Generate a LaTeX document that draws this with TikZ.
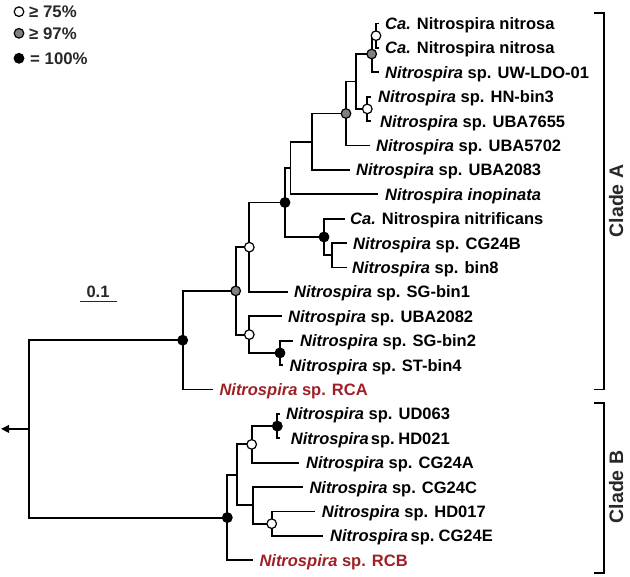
\documentclass[tikz,border=0pt]{standalone}
\usepackage{fontspec}
\setmainfont{Liberation Sans}
\usetikzlibrary{arrows.meta}
\definecolor{redlab}{RGB}{158,32,38}
\definecolor{dgray}{RGB}{40,40,40}
\definecolor{cgray}{RGB}{128,128,128}
\newcommand{\Ni}{\textit{Nitrospira}}
\begin{document}
\begin{tikzpicture}[x=1pt,y=-1pt,
  edge/.style={line width=1.9pt},
  lab/.style={anchor=base west, inner sep=0pt, font=\bfseries\fontsize{16.5}{18}\selectfont, text=black},
  redl/.style={lab, text=redlab},
  nd/.style={circle, draw=black, line width=1.2pt, minimum size=9.6pt, inner sep=0pt},
  wc/.style={nd, fill=white},
  gc/.style={nd, fill=cgray},
  bc/.style={nd, fill=black},
  leg/.style={anchor=base west, inner sep=0pt, font=\bfseries\fontsize{16.8}{18}\selectfont, text=dgray},
  clade/.style={rotate=90, anchor=base, inner sep=0pt, font=\bfseries\fontsize{19.5}{22}\selectfont, text=dgray}]
\useasboundingbox (0,0) rectangle (630,577);

% internal nodes
\coordinate (n1) at (376,35.7);
\coordinate (n2) at (371.7,54);
\coordinate (n3) at (367.3,108.9);
\coordinate (n4) at (356,81.5);
\coordinate (n5) at (346,113.5);
\coordinate (n6) at (311.7,141.7);
\coordinate (n7) at (290.5,168);
\coordinate (n8) at (285,202.5);
\coordinate (n9) at (324,237);
\coordinate (n10) at (331.7,255.3);
\coordinate (n11) at (249.3,247.2);
\coordinate (n12) at (235.7,290.9);
\coordinate (n13) at (249.3,334.6);
\coordinate (n14) at (280,352.9);
\coordinate (n15) at (182.7,340.2);
\coordinate (nB4) at (277.3,426.1);
\coordinate (nB2) at (251.7,444.4);
\coordinate (nB5) at (271.7,523.7);
\coordinate (nB3) at (253.3,505.4);
\coordinate (nB1) at (236.7,474.9);
\coordinate (nB0) at (227.3,517.6);
\coordinate (root) at (29.3,428.9);
\coordinate (out) at (1,428.9);

% tips
\coordinate (t0) at (378.5,23.5);
\coordinate (t1) at (378.5,47.9);
\coordinate (t2) at (378.5,72.3);
\coordinate (t3) at (370.5,96.7);
\coordinate (t4) at (370.5,121.1);
\coordinate (t5) at (370,145.5);
\coordinate (t6) at (350,169.9);
\coordinate (t7) at (378,194.3);
\coordinate (t8) at (345,218.7);
\coordinate (t9) at (346.7,243.1);
\coordinate (t10) at (346.7,267.5);
\coordinate (t11) at (288.3,291.9);
\coordinate (t12) at (281.7,316.3);
\coordinate (t13) at (292.7,340.7);
\coordinate (t14) at (283.3,365.1);
\coordinate (t15) at (213.3,389.5);
\coordinate (t16) at (280,413.9);
\coordinate (t17) at (280,438.3);
\coordinate (t18) at (299.3,462.7);
\coordinate (t19) at (303.3,487.1);
\coordinate (t20) at (315,511.5);
\coordinate (t21) at (322.7,535.9);
\coordinate (t22) at (253.3,560.3);

% edges
\draw[edge] (n1) |- (t0);
\draw[edge] (n1) |- (t1);
\draw[edge] (n2) |- (n1);
\draw[edge] (n2) |- (t2);
\draw[edge] (n3) |- (t3);
\draw[edge] (n3) |- (t4);
\draw[edge] (n4) |- (n2);
\draw[edge] (n4) |- (n3);
\draw[edge] (n5) |- (n4);
\draw[edge] (n5) |- (t5);
\draw[edge] (n6) |- (n5);
\draw[edge] (n6) |- (t6);
\draw[edge] (n7) |- (n6);
\draw[edge] (n7) |- (t7);
\draw[edge] (n10) |- (t9);
\draw[edge] (n10) |- (t10);
\draw[edge] (n9) |- (t8);
\draw[edge] (n9) |- (n10);
\draw[edge] (n8) |- (n7);
\draw[edge] (n8) |- (n9);
\draw[edge] (n11) |- (n8);
\draw[edge] (n11) |- (t11);
\draw[edge] (n14) |- (t13);
\draw[edge] (n14) |- (t14);
\draw[edge] (n13) |- (t12);
\draw[edge] (n13) |- (n14);
\draw[edge] (n12) |- (n11);
\draw[edge] (n12) |- (n13);
\draw[edge] (n15) |- (n12);
\draw[edge] (n15) |- (t15);
\draw[edge] (nB4) |- (t16);
\draw[edge] (nB4) |- (t17);
\draw[edge] (nB2) |- (nB4);
\draw[edge] (nB2) |- (t18);
\draw[edge] (nB5) |- (t20);
\draw[edge] (nB5) |- (t21);
\draw[edge] (nB3) |- (t19);
\draw[edge] (nB3) |- (nB5);
\draw[edge] (nB1) |- (nB2);
\draw[edge] (nB1) |- (nB3);
\draw[edge] (nB0) |- (nB1);
\draw[edge] (nB0) |- (t22);
\draw[edge] (root) |- (n15);
\draw[edge] (root) |- (nB0);
\draw[edge, -{Triangle[length=8pt,width=7.5pt]}] (root) -- (out);

% support circles
\node[wc] (c1) at (n1) {};
\node[gc] (c2) at (n2) {};
\node[wc] (c3) at (n3) {};
\node[gc] (c5) at (n5) {};
\node[bc] (c8) at (n8) {};
\node[bc] (c9) at (n9) {};
\node[wc] (c11) at (n11) {};
\node[gc] (c12) at (n12) {};
\node[wc] (c13) at (n13) {};
\node[bc] (c14) at (n14) {};
\node[bc] (c15) at (n15) {};
\node[bc] (cB4) at (nB4) {};
\node[wc] (cB2) at (nB2) {};
\node[wc] (cB5) at (nB5) {};
\node[bc] (cB0) at (nB0) {};

% labels
\node[lab] (L0) at (385,29.5) {\textit{Ca.} Nitrospira nitrosa};
\node[lab] (L1) at (385,53.9) {\textit{Ca.} Nitrospira nitrosa};
\node[lab] (L2) at (385,78.3) {\Ni{} sp. UW-LDO-01};
\node[lab] (L3) at (378,102.7) {\Ni{} sp. HN-bin3};
\node[lab] (L4) at (380,127.1) {\Ni{} sp. UBA7655};
\node[lab] (L5) at (376,151.5) {\Ni{} sp. UBA5702};
\node[lab] (L6) at (356,175.9) {\Ni{} sp. UBA2083};
\node[lab] (L7) at (385,200.3) {\textit{Nitrospira inopinata}};
\node[lab] (L8) at (350,224.7) {\textit{Ca.} Nitrospira nitrificans};
\node[lab] (L9) at (353,249.1) {\Ni{} sp. CG24B};
\node[lab] (L10) at (352,273.5) {\Ni{} sp. bin8};
\node[lab] (L11) at (294,297.9) {\Ni{} sp. SG-bin1};
\node[lab] (L12) at (288,322.3) {\Ni{} sp. UBA2082};
\node[lab] (L13) at (300,346.7) {\Ni{} sp. SG-bin2};
\node[lab] (L14) at (289.3,371.1) {\Ni{} sp. ST-bin4};
\node[redl] (L15) at (219.3,395.5) {\Ni{} sp. RCA};
\node[lab] (L16) at (286,419.9) {\Ni{} sp. UD063};
\node[lab] (L17) at (290.7,444.3) {\Ni{}\hspace{-2.5pt} sp.\hspace{-2.5pt} HD021};
\node[lab] (L18) at (306,468.7) {\Ni{} sp. CG24A};
\node[lab] (L19) at (309.3,493.1) {\Ni{} sp. CG24C};
\node[lab] (L20) at (321.7,517.5) {\Ni{} sp. HD017};
\node[lab] (L21) at (330,541.9) {\Ni{}\hspace{-2pt} sp.\hspace{-2pt} CG24E};
\node[redl] (L22) at (259.3,566.3) {\Ni{} sp. RCB};

% legend
\node[wc] (lg1) at (19,11.7) {};
\node[gc] (lg2) at (19,33.3) {};
\node[bc] (lg3) at (19,58.3) {};
\node[leg] (lt1) at (29,17.7) {≥ 75\%};
\node[leg] (lt2) at (29,39.3) {≥ 97\%};
\node[leg] (lt3) at (30,64.3) {= 100\%};

% scale bar
\node[anchor=base, inner sep=0pt, font=\bfseries\fontsize{16.5}{18}\selectfont, text=dgray] (sb) at (98,297.5) {0.1};
\coordinate (sb1) at (80,301.5);
\coordinate (sb2) at (117,301.5);
\draw[edge, dgray] (sb1) -- (sb2);

% clade brackets
\coordinate (bA1) at (594,13.3);
\coordinate (bA2) at (604.3,13.3);
\coordinate (bA3) at (604.3,389.5);
\coordinate (bA4) at (594,389.5);
\coordinate (bB1) at (594,403);
\coordinate (bB2) at (604.3,403);
\coordinate (bB3) at (604.3,573);
\coordinate (bB4) at (594,573);
\draw[edge] (bA1) -- (bA2) -- (bA3) -- (bA4);
\draw[edge] (bB1) -- (bB2) -- (bB3) -- (bB4);
\node[clade] (cA) at (623,201) {Clade A};
\node[clade] (cB) at (623,487) {Clade B};
\end{tikzpicture}
\end{document}
